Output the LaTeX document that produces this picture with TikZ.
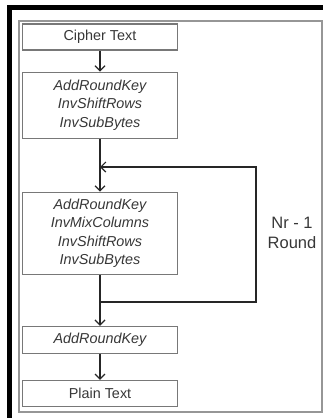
\documentclass[tikz,border=0pt]{standalone}
\usepackage{fontspec}
\setmainfont{Liberation Sans}
\usetikzlibrary{positioning, arrows.meta, calc}
\definecolor{boxline}{RGB}{120,120,120}
\definecolor{txt}{RGB}{55,55,55}
\definecolor{frameline}{RGB}{150,150,150}
\tikzset{
  block/.style={draw=boxline, line width=1.1pt, minimum width=155pt, minimum height=26pt, inner sep=2pt, align=center, text=txt, font=\fontsize{14.4}{18.5}\selectfont},
  opblock/.style={block, font=\fontsize{14.4}{18.5}\selectfont\itshape},
  arr/.style={-{Straight Barb[length=5pt, width=10pt]}, line width=1.2pt, draw=black!85},
  lne/.style={line width=1.2pt, draw=black!85},
  lbl/.style={text=txt, align=center, font=\fontsize{16.5}{20}\selectfont}
}
\begin{document}
\begin{tikzpicture}[x=1pt, y=-1pt, node distance=22pt]
\useasboundingbox (0,0) rectangle (323,418);
% frames
\begin{scope}
\clip (0,0) rectangle (323,418);
\draw[line width=5pt] (9.5,440) -- (9.5,7.5) -- (340,7.5);
\end{scope}
\draw[frameline, line width=1.3pt] (19,412) -- (19,21) -- (322,21) -- (322,412) -- cycle;
% boxes
\node[block] (ct) at (100,37) {Cipher Text};
\node[opblock, minimum height=66pt, below=21pt of ct] (r1) {AddRoundKey\\InvShiftRows\\InvSubBytes};
\node[opblock, minimum height=82pt, below=53pt of r1] (rn) {AddRoundKey\\InvMixColumns\\InvShiftRows\\InvSubBytes};
\node[opblock, minimum height=27pt, below=51pt of rn] (rl) {AddRoundKey};
\node[block, below=26pt of rl] (pt) {Plain Text};
\node[lbl] (nr) at (292,233) {Nr - 1\\Round};
% loop points
\coordinate (lpb) at (256,302);
\coordinate (lpt) at (256,167);
\coordinate (mrg) at (rn.south |- lpb);
\coordinate (fin) at (rn.north |- lpt);
\draw[arr] (ct) -- (r1);
\draw[arr] (r1) -- (rn);
\draw[lne] (rn.south) -- (mrg);
\draw[arr] (mrg) -- (rl);
\draw[arr] (mrg) -- (lpb) -- (lpt) -- (fin);
\draw[arr] (rl) -- (pt);
\end{tikzpicture}
\end{document}
